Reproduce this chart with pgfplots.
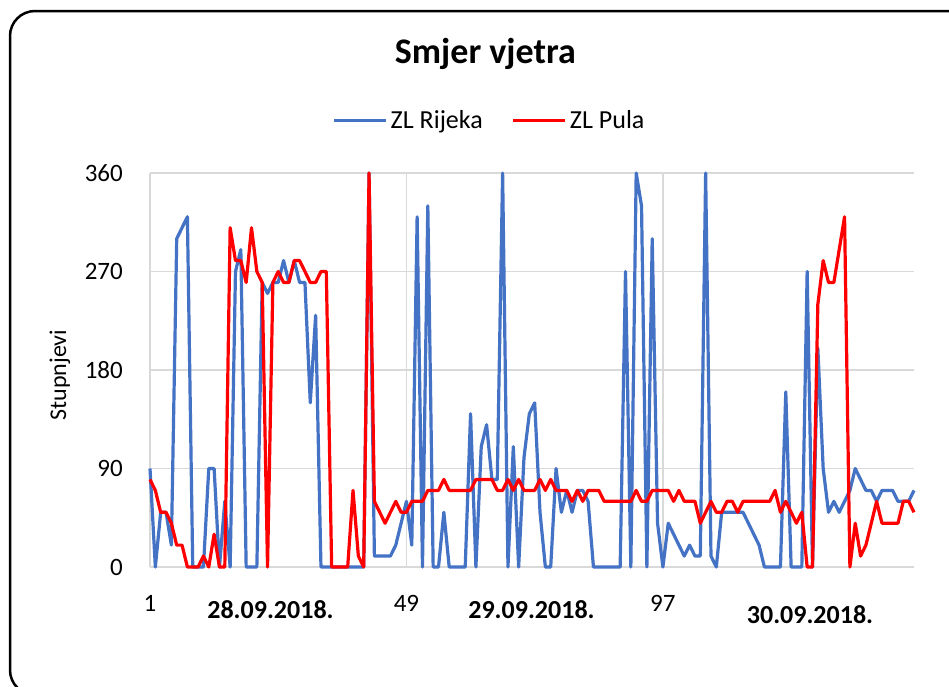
\documentclass[border=0pt]{standalone}
\usepackage{pgfplots}
\usepackage{pgfplotstable}
\pgfplotsset{compat=1.18}
\usepackage{fontspec}
\setmainfont{Carlito}
\definecolor{cblue}{HTML}{4472C4}
\definecolor{cred}{HTML}{FF0000}
\definecolor{cgrid}{HTML}{D9D9D9}
\pgfplotstableread{
i r p
1 90 80
2 0 70
3 50 50
4 50 50
5 20 40
6 300 20
7 310 20
8 320 0
9 0 0
10 0 0
11 0 10
12 90 0
13 90 30
14 0 0
15 60 0
16 0 310
17 270 280
18 290 280
19 0 260
20 0 310
21 0 270
22 260 260
23 250 0
24 260 260
25 260 270
26 280 260
27 260 260
28 280 280
29 260 280
30 260 270
31 150 260
32 230 260
33 0 270
34 0 270
35 0 0
36 0 0
37 0 0
38 0 0
39 0 70
40 0 10
41 0 0
42 360 360
43 10 60
44 10 50
45 10 40
46 10 50
47 20 60
48 40 50
49 60 50
50 20 60
51 320 60
52 0 60
53 330 70
54 0 70
55 0 70
56 50 80
57 0 70
58 0 70
59 0 70
60 0 70
61 140 70
62 0 80
63 110 80
64 130 80
65 80 80
66 80 70
67 360 70
68 0 80
69 110 70
70 0 80
71 100 70
72 140 70
73 150 70
74 50 80
75 0 70
76 0 80
77 90 70
78 50 70
79 70 70
80 50 60
81 70 70
82 70 60
83 60 70
84 0 70
85 0 70
86 0 60
87 0 60
88 0 60
89 0 60
90 270 60
91 0 60
92 360 70
93 330 60
94 0 60
95 300 70
96 40 70
97 0 70
98 40 70
99 30 60
100 20 70
101 10 60
102 20 60
103 10 60
104 10 40
105 360 50
106 10 60
107 0 50
108 50 50
109 50 60
110 50 60
111 50 50
112 50 60
113 40 60
114 30 60
115 20 60
116 0 60
117 0 60
118 0 70
119 0 50
120 160 60
121 0 50
122 0 40
123 0 50
124 270 0
125 0 0
126 200 240
127 90 280
128 50 260
129 60 260
130 50 290
131 60 320
132 70 0
133 90 40
134 80 10
135 70 20
136 70 40
137 60 60
138 70 40
139 70 40
140 70 40
141 60 40
142 60 60
143 60 60
144 70 50
}\datatable
\begin{document}
\begin{tikzpicture}[x=1pt,y=1pt]
\useasboundingbox (0,0) rectangle (949,-686);
\clip (0,0) rectangle (949,-686);
\fill[white] (0,0) rectangle (949,-686);
\draw[line width=2.5pt, rounded corners=25pt] (10,-11) rectangle (975,-695);
\begin{axis}[
  at={(150pt,-567pt)}, anchor=south west,
  scale only axis, width=764pt, height=394pt,
  xmin=1, xmax=144, ymin=0, ymax=360,
  xtick={1,49,97}, ytick={0,90,180,270,360},
  major tick length=0pt,
  grid=major, major grid style={cgrid, line width=1.5pt},
  axis line style={draw=none},
  clip=false,
  /pgf/number format/assume math mode=true,
  tick label style={font=\fontsize{25}{30}\selectfont, inner sep=0pt},
  yticklabel style={anchor=east, xshift=-27pt},
  xticklabel style={anchor=north, yshift=-28pt},
  ylabel={Stupnjevi},
  ylabel style={at={(axis description cs:-0.1178,0.487)}, anchor=center, rotate=0, font=\fontsize{24}{28}\selectfont},
  title={Smjer vjetra},
  title style={at={(axis description cs:0.439,1.262)}, anchor=base, font=\fontsize{36}{40}\selectfont\bfseries},
  legend columns=2,
  legend style={at={(0.445,1.133)}, anchor=center, draw=none, fill=none,
    font=\fontsize{26}{30}\selectfont, nodes={inner sep=3pt},
    /tikz/every even column/.append style={column sep=26pt}},
  legend image code/.code={\draw[#1] (0pt,0pt) -- (52pt,0pt);},
]
\addplot[cblue, line width=3.2pt, line join=round] table[x=i,y=r]{\datatable};
\addlegendentry{ZL Rijeka}
\addplot[cred, line width=3.2pt, line join=round] table[x=i,y=p]{\datatable};
\addlegendentry{ZL Pula}
\end{axis}
\node[anchor=base, font=\fontsize{26}{30}\selectfont\bfseries] at (270.5,-618) {28.09.2018.};
\node[anchor=base, font=\fontsize{26}{30}\selectfont\bfseries] at (531.5,-618) {29.09.2018.};
\node[anchor=base, font=\fontsize{26}{30}\selectfont\bfseries] at (810,-623) {30.09.2018.};
\end{tikzpicture}
\end{document}
